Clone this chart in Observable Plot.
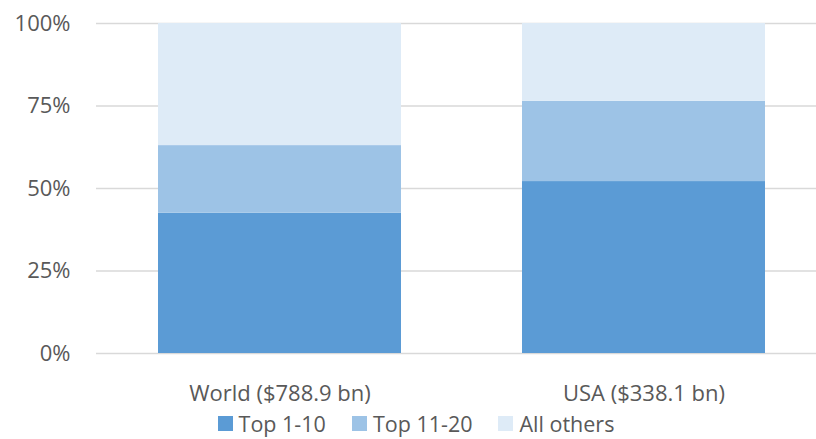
<!DOCTYPE html>
<html>
<head>
<meta charset="utf-8">
<script src="https://cdn.jsdelivr.net/npm/d3@7"></script>
<script src="https://cdn.jsdelivr.net/npm/@observablehq/plot@0.6"></script>
<style>
  html, body { margin: 0; padding: 0; background: #fff; }
  body { width: 816px; height: 439px; overflow: hidden; font-family: "Open Sans", sans-serif; color: #595959; }
  #chart svg { display: block; }
  #legend { display: flex; justify-content: center; align-items: center; gap: 26px; font-size: 21.5px; padding-left: 16px; margin-top: 0px; height: 24px; line-height: 1.1; }
  .item { display: flex; align-items: center; gap: 6px; }
  .sw { width: 15px; height: 15px; display: inline-block; }
  svg text { fill: #595959; }
</style>
</head>
<body>
<div id="chart"></div>
<div id="legend"></div>
<script>
const categories = ["World ($788.9 bn)", "USA ($338.1 bn)"];
const seriesNames = ["Top 1-10", "Top 11-20", "All others"];
const top1to10 = [42.5, 52.1];
const top11to20 = [20.5, 24.3];
const allOthers = [37.0, 23.6];
const yTicks = [0, 25, 50, 75, 100];
const colors = ["#5B9BD5", "#9DC3E6", "#DEEBF7"];

const seriesValues = [top1to10, top11to20, allOthers];
const data = [];
seriesNames.forEach((s, i) => categories.forEach((c, j) => data.push({category: c, series: s, value: seriesValues[i][j]})));

const chart = Plot.plot({
  width: 816,
  height: 412,
  marginLeft: 96,
  marginRight: 0,
  marginTop: 23,
  marginBottom: 59,
  style: {fontFamily: "'Open Sans', sans-serif", fontSize: "22px", color: "#595959", background: "#fff"},
  x: {domain: categories, paddingInner: 0.333, paddingOuter: 0.153, align: 0.545, label: null},
  y: {domain: [0, 100], label: null},
  color: {domain: seriesNames, range: colors},
  marks: [
    Plot.ruleY(yTicks, {stroke: "#D9D9D9", strokeWidth: 1.5}),
    Plot.barY(data, Plot.stackY({order: seriesNames}, {x: "category", y: "value", fill: "series", z: "series"})),
    Plot.axisX({tickSize: 0, tickPadding: 32, fontSize: 22, label: null}),
    Plot.axisY({ticks: yTicks, tickFormat: d => d + "%", tickSize: 0, tickPadding: 26, fontSize: 22, label: null})
  ]
});
document.getElementById("chart").appendChild(chart);

const legend = document.getElementById("legend");
seriesNames.forEach((s, i) => {
  const item = document.createElement("div");
  item.className = "item";
  const sw = document.createElement("span");
  sw.className = "sw";
  sw.style.background = colors[i];
  const t = document.createElement("span");
  t.textContent = s;
  item.appendChild(sw);
  item.appendChild(t);
  legend.appendChild(item);
});
</script>
</body>
</html>
